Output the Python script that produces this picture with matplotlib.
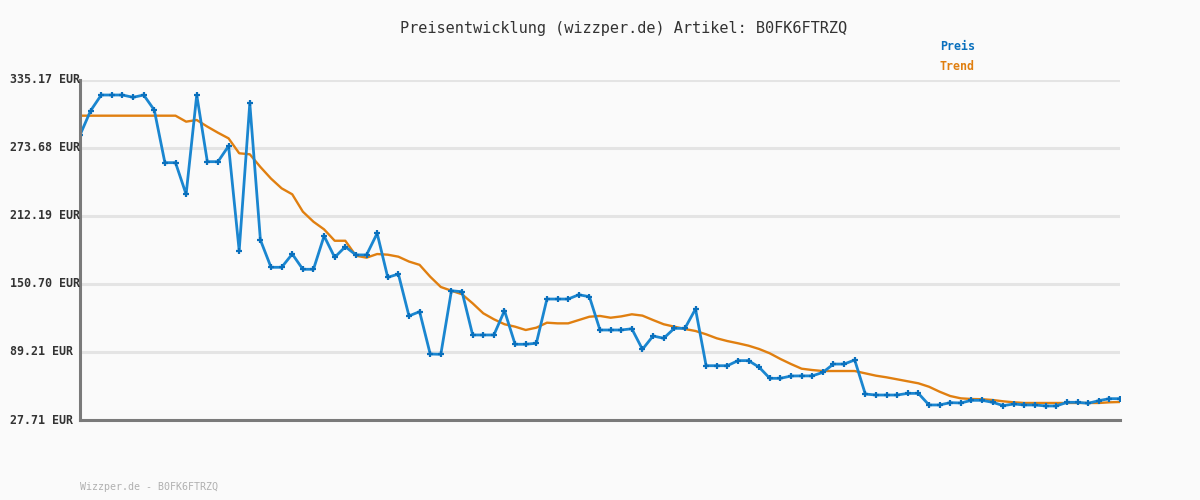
import matplotlib.pyplot as plt
import matplotlib.transforms as mtransforms

# price history (99 samples, oldest first)
preis = [
    285.4, 307.4, 321.6, 321.6, 321.6, 319.5, 321.6, 308.0, 260.4, 260.4,
    231.8, 321.6, 261.3, 261.3, 275.5, 180.8, 314.1, 190.5, 165.8, 165.8,
    177.8, 164.0, 164.0, 194.1, 174.8, 184.4, 177.0, 177.0, 196.5, 156.7,
    159.7, 121.8, 125.7, 87.4, 87.1, 144.6, 143.7, 104.6, 104.6, 104.6,
    126.6, 96.2, 96.2, 97.1, 137.1, 137.1, 137.1, 141.0, 139.2, 109.1,
    109.1, 109.1, 110.2, 91.6, 103.7, 101.6, 110.6, 110.6, 128.1, 76.8,
    76.8, 76.8, 81.4, 81.4, 75.4, 65.4, 65.4, 67.5, 67.6, 67.6,
    70.8, 78.3, 78.3, 82.0, 51.2, 50.3, 50.3, 50.3, 51.8, 51.8,
    41.3, 41.3, 43.4, 43.1, 45.5, 45.5, 43.7, 40.7, 42.2, 41.3,
    41.3, 40.4, 40.4, 43.7, 43.7, 42.8, 45.2, 47.0, 47.0,
]
trend = [
    302.9, 302.9, 302.9, 302.9, 302.9, 302.9, 302.9, 302.9, 302.9, 302.9,
    297.5, 299.0, 293.0, 287.5, 282.4, 268.9, 268.0, 256.5, 246.0, 237.2,
    231.8, 216.1, 207.0, 200.1, 189.8, 189.8, 176.3, 174.5, 177.8, 177.2,
    175.4, 171.0, 168.0, 157.3, 148.0, 144.6, 141.4, 133.2, 124.2, 118.8,
    114.3, 112.1, 109.1, 111.2, 115.7, 115.1, 115.1, 118.1, 121.1, 121.8,
    120.2, 121.4, 123.3, 122.1, 118.1, 114.3, 112.1, 110.0, 108.2, 105.2,
    101.6, 99.1, 97.1, 94.9, 91.9, 88.0, 82.9, 78.3, 74.1, 72.9,
    72.0, 72.0, 72.0, 72.0, 69.9, 67.8, 66.3, 64.5, 62.7, 60.9,
    57.8, 53.3, 49.4, 47.3, 46.7, 46.5, 45.8, 44.6, 43.7, 43.1,
    43.1, 43.1, 43.1, 43.1, 43.1, 43.1, 43.1, 43.7, 44.0,
]
y_ticks = [27.71, 89.21, 150.70, 212.19, 273.68, 335.17]
artikel = "B0FK6FTRZQ"

bg = "#fafafa"
blue = "#1a86d0"
blue_dark = "#0a70bd"
orange = "#e07f10"
grey_text = "#333333"

fig = plt.figure(figsize=(12, 5), dpi=100, facecolor=bg)
ax = fig.add_axes([80 / 1200, 80 / 500, 1040 / 1200, 340 / 500])
ax.set_facecolor(bg)

x = list(range(len(preis)))
ax.plot(x, trend, color=orange, lw=1.7, zorder=3)
ax.plot(x, preis, color=blue, lw=2.0, marker="+", ms=5, mew=1.6,
        mec=blue_dark, zorder=4)

ax.set_xlim(0, len(preis) - 1)
ax.set_ylim(y_ticks[0], y_ticks[-1])
ax.set_xticks([])
ax.set_yticks(y_ticks)
ax.tick_params(axis="y", length=0, labelleft=False)
ax.grid(axis="y", color="#e4e4e4", lw=2.2, zorder=0)
ax.set_axisbelow(True)

for side in ["top", "right"]:
    ax.spines[side].set_visible(False)
for side in ["left", "bottom"]:
    ax.spines[side].set_color("#7a7a7a")
    ax.spines[side].set_linewidth(2.2)
    ax.spines[side].set_zorder(5)

# y labels sit left-aligned at the image edge
trans = mtransforms.blended_transform_factory(fig.transFigure, ax.transData)
for v in y_ticks:
    fig.text(10 / 1200, v, f"{v:.2f} EUR", transform=trans, ha="left",
             va="center", family="DejaVu Sans Mono", fontsize=8.4,
             fontweight="bold", color=grey_text)

fig.text(624 / 1200, 1 - 28 / 500,
         f"Preisentwicklung (wizzper.de) Artikel: {artikel}",
         ha="center", va="center", family="DejaVu Sans Mono", fontsize=11,
         color=grey_text)
fig.text(940 / 1200, 1 - 47 / 500, "Preis", ha="left", va="center",
         family="DejaVu Sans Mono", fontsize=8.4, fontweight="bold", color=blue_dark)
fig.text(940 / 1200, 1 - 67 / 500, "Trend", ha="left", va="center",
         family="DejaVu Sans Mono", fontsize=8.4, fontweight="bold", color=orange)
fig.text(80 / 1200, 1 - 487 / 500, f"Wizzper.de - {artikel}", ha="left",
         va="center", family="DejaVu Sans Mono", fontsize=7.2, color="#b0b0b0")

fig.savefig("out.png", dpi=100, facecolor=bg)
